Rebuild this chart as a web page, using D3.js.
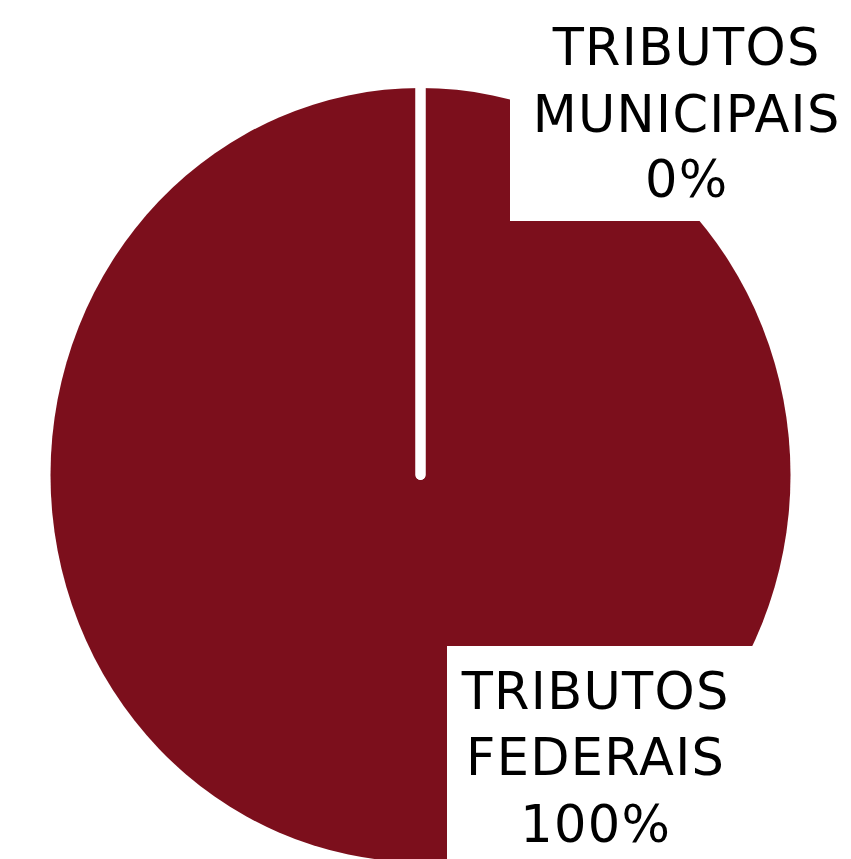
<!DOCTYPE html>
<html>
<head>
<meta charset="utf-8">
<script src="https://cdn.jsdelivr.net/npm/d3@7"></script>
<style>
  html, body { margin: 0; padding: 0; background: #fff; }
  svg { display: block; }
</style>
</head>
<body>
<svg id="chart" width="851" height="859"></svg>
<script>
// Data
const categories = ["TRIBUTOS FEDERAIS", "TRIBUTOS MUNICIPAIS"];
const labelLines = [["TRIBUTOS", "FEDERAIS"], ["TRIBUTOS", "MUNICIPAIS"]];
const values = [100, 0];
const percentLabels = ["100%", "0%"];

// Layout
const W = 851, H = 859;
const cx = 420.5, cy = 475, rx = 370, ry = 387;
const color = "#7C0F1C";

const svg = d3.select("#chart");

const pie = d3.pie().sort(null).value(d => d);
const arcs = pie(values);
const arc = d3.arc().innerRadius(0).outerRadius(rx);

const g = svg.append("g")
  .attr("transform", `translate(${cx},${cy}) scale(1,${ry / rx})`);

g.selectAll("path.slice")
  .data(arcs)
  .join("path")
  .attr("class", "slice")
  .attr("d", arc)
  .attr("fill", color);

// White separators at slice boundaries
const sepG = svg.append("g").attr("transform", `translate(${cx},${cy})`);
const boundaryAngles = arcs.map(a => a.startAngle);
sepG.selectAll("line.sep")
  .data(boundaryAngles)
  .join("line")
  .attr("class", "sep")
  .attr("x1", 0).attr("y1", 0)
  .attr("x2", a => Math.sin(a) * rx * 1.02)
  .attr("y2", a => -Math.cos(a) * ry * 1.02)
  .attr("stroke", "#fff")
  .attr("stroke-width", 10)
  .attr("stroke-linecap", "round");

// Labels with white boxes
const labelBoxes = [
  { x: 447, y: 646, w: W - 447, h: H - 646, cx: 595, baselines: [709, 775, 842] },
  { x: 510, y: 0, w: W - 510, h: 221, cx: 686, baselines: [65, 132, 197] }
];

const lg = svg.append("g");
arcs.forEach((a, i) => {
  const b = labelBoxes[i];
  lg.append("rect")
    .attr("x", b.x).attr("y", b.y)
    .attr("width", b.w).attr("height", b.h)
    .attr("fill", "#fff");
  const lines = labelLines[i].concat([percentLabels[i]]);
  const t = lg.append("text")
    .attr("text-anchor", "middle")
    .attr("font-family", "'DejaVu Sans', sans-serif")
    .attr("font-size", 51)
    .attr("letter-spacing", 1.3)
    .attr("fill", "#000");
  lines.forEach((ln, j) => {
    t.append("tspan")
      .attr("x", b.cx + 0.65)
      .attr("y", b.baselines[j])
      .text(ln);
  });
});
</script>
</body>
</html>
